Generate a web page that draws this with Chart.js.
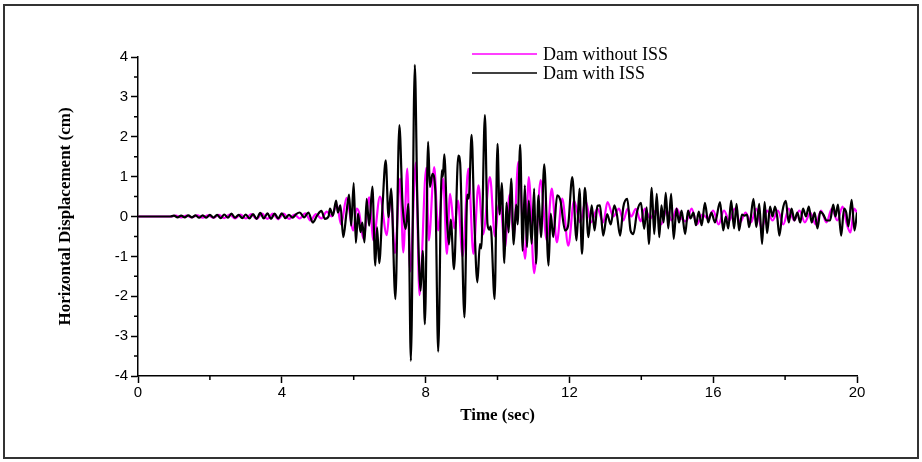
<!DOCTYPE html>
<html>
<head>
<meta charset="utf-8">
<title>Horizontal displacement</title>
<script src="https://cdn.jsdelivr.net/npm/chart.js@4.4.1/dist/chart.umd.min.js"></script>
<style>
    body { margin: 0; background: #fff; }
    #wrap { position: relative; width: 922px; height: 462px; }
    #frame { position: absolute; left: 3px; top: 4px; width: 916px; height: 455px; border: 2px solid #333; box-sizing: border-box; pointer-events: none; }
    canvas { position: absolute; left: 0; top: 0; }
</style>
</head>
<body>
<div id="wrap">
    <canvas id="dispChart" width="922" height="462"></canvas>
    <div id="frame"></div>
</div>
<script>
// Dam with ISS (black) - time (sec) / displacement (cm)
const timeWith = [
    0, 0.9, 1.0, 1.1, 1.2, 1.3, 1.4, 1.5, 1.6, 1.7,
    1.8, 1.9, 2.0, 2.1, 2.2, 2.3, 2.4, 2.5, 2.6, 2.7,
    2.8, 2.9, 3.0, 3.1, 3.2, 3.3, 3.4, 3.5, 3.6, 3.7,
    3.8, 3.9, 4.0, 4.1, 4.2, 4.3, 4.4, 4.5, 4.62, 4.74,
    4.86, 4.98, 5.1, 5.2, 5.3, 5.34, 5.42, 5.51, 5.56, 5.63,
    5.71, 5.8, 5.87, 5.93, 6.0, 6.06, 6.12, 6.19, 6.24, 6.3,
    6.36, 6.43, 6.52, 6.6, 6.65, 6.71, 6.8, 6.89, 6.97, 7.04,
    7.16, 7.27, 7.36, 7.45, 7.52, 7.59, 7.7, 7.77, 7.86, 7.92,
    7.98, 8.07, 8.12, 8.19, 8.27, 8.35, 8.45, 8.48, 8.52, 8.6,
    8.65, 8.7, 8.79, 8.91, 8.96, 9.08, 9.16, 9.2, 9.28, 9.35,
    9.44, 9.51, 9.55, 9.65, 9.72, 9.77, 9.81, 9.92, 10.0, 10.06,
    10.12, 10.19, 10.25, 10.31, 10.38, 10.45, 10.52, 10.56, 10.63, 10.7,
    10.76, 10.82, 10.87, 10.95, 11.02, 11.07, 11.14, 11.21, 11.3, 11.42,
    11.48, 11.55, 11.66, 11.75, 11.88, 11.96, 12.08, 12.2, 12.28, 12.35,
    12.43, 12.53, 12.62, 12.7, 12.78, 12.85, 12.94, 13.05, 13.15, 13.25,
    13.32, 13.41, 13.5, 13.61, 13.7, 13.78, 13.88, 13.99, 14.08, 14.15,
    14.21, 14.29, 14.36, 14.43, 14.5, 14.56, 14.62, 14.68, 14.75, 14.83,
    14.9, 14.98, 15.05, 15.12, 15.22, 15.3, 15.37, 15.45, 15.52, 15.6,
    15.68, 15.77, 15.86, 15.95, 16.05, 16.19, 16.28, 16.35, 16.42, 16.5,
    16.58, 16.65, 16.72, 16.8, 16.87, 16.94, 17.0, 17.12, 17.2, 17.28,
    17.36, 17.43, 17.5, 17.58, 17.65, 17.72, 17.78, 17.84, 17.93, 18.02,
    18.1, 18.18, 18.26, 18.34, 18.42, 18.5, 18.58, 18.66, 18.74, 18.82,
    18.9, 18.98, 19.06, 19.16, 19.25, 19.34, 19.4, 19.47, 19.56, 19.64,
    19.7, 19.76, 19.85, 19.93, 20.0
];
const dispWith = [
    0, 0, 0.02, -0.02, 0.02, -0.02, 0.03, -0.02, 0.03, -0.03,
    0.03, -0.03, 0.04, -0.03, 0.04, -0.04, 0.05, -0.03, 0.07, -0.03,
    0.04, -0.04, 0.05, -0.05, 0.06, -0.06, 0.09, -0.05, 0.08, -0.06,
    0.07, -0.05, 0.08, -0.04, 0.04, -0.03, 0.06, 0.1, -0.02, 0.1,
    -0.15, 0.02, 0.14, -0.06, 0.0, 0.2, 0.02, 0.4, 0.1, 0.28,
    -0.52, 0.1, 0.55, -0.23, 0.84, -0.66, 0.07, -0.39, -0.15, -0.65,
    0.44, -0.23, 0.75, -1.23, -0.27, -1.17, 0.23, 1.41, -0.02, 0.7,
    -2.07, 2.29, 0.28, -0.31, 0.32, -3.62, 3.8, 0.4, -1.86, -0.86,
    -2.7, 1.87, 0.74, 1.07, 0.65, -3.39, 1.16, 1.0, 1.56, -0.18,
    -0.7, -0.08, -1.32, 1.53, 1.35, -2.53, 0.55, 0.45, 2.05, 0.05,
    -1.65, -0.69, -0.8, 2.54, -0.18, -0.33, -0.25, -2.07, 1.82, 0.05,
    0.84, -1.17, 0.35, -0.4, 0.95, -0.7, 0.3, -0.2, 1.8, -0.86,
    0.78, -0.77, 0.4, -0.68, 0.7, -1.19, 0.53, -0.52, 1.31, -1.23,
    0.07, -0.52, 0.53, 0.4, -0.35, -0.25, 0.99, -0.6, 0.7, -0.94,
    0.72, -0.52, 0.28, -0.35, 0.27, 0.28, -0.48, 0.06, -0.2, 0.28,
    0.06, -0.48, 0.24, 0.44, -0.35, -0.44, 0.11, 0.34, -0.31, 0.23,
    -0.69, 0.72, -0.44, 0.57, -0.52, 0.28, -0.15, 0.59, -0.3, 0.57,
    -0.56, 0.2, -0.15, 0.15, -0.44, 0.15, -0.05, 0.1, -0.22, 0.12,
    -0.22, 0.34, -0.15, 0.1, -0.15, 0.36, -0.35, 0, -0.3, 0.4,
    -0.3, 0.32, -0.35, 0.05, 0.02, 0.05, -0.27, 0.44, -0.27, 0.32,
    -0.69, 0.36, -0.42, 0.25, 0, 0.25, 0, -0.48, 0.15, 0.39,
    -0.15, 0.2, -0.1, 0.1, -0.15, 0.2, 0, 0.25, -0.15, 0.1,
    -0.3, 0.12, 0.05, -0.1, -0.1, 0.3, 0, 0.3, -0.48, 0.2,
    0.1, -0.25, 0.42, -0.35, 0.1
];

// Dam without ISS (magenta)
const timeWithout = [
    0, 0.9, 1.05, 1.2, 1.35, 1.5, 1.65, 1.8, 1.95, 2.1,
    2.25, 2.4, 2.55, 2.7, 2.85, 3.0, 3.15, 3.3, 3.45, 3.6,
    3.75, 3.9, 4.05, 4.2, 4.35, 4.5, 4.65, 4.8, 4.95, 5.1,
    5.25, 5.39, 5.53, 5.65, 5.8, 5.99, 6.08, 6.15, 6.27, 6.43,
    6.55, 6.73, 6.92, 7.03, 7.15, 7.29, 7.38, 7.49, 7.57, 7.73,
    7.83, 8.02, 8.09, 8.24, 8.35, 8.49, 8.59, 8.68, 8.8, 8.9,
    9.03, 9.19, 9.33, 9.47, 9.6, 9.79, 9.93, 10.03, 10.1, 10.2,
    10.34, 10.45, 10.58, 10.77, 10.87, 11.02, 11.2, 11.37, 11.51, 11.65,
    11.8, 11.97, 12.13, 12.3, 12.45, 12.6, 12.78, 12.94, 13.06, 13.22,
    13.38, 13.5, 13.62, 13.72, 13.85, 13.98, 14.1, 14.25, 14.4, 14.55,
    14.7, 14.85, 14.98, 15.12, 15.25, 15.4, 15.55, 15.7, 15.85, 16.0,
    16.15, 16.3, 16.45, 16.6, 16.75, 16.9, 17.05, 17.2, 17.35, 17.5,
    17.65, 17.8, 17.95, 18.1, 18.25, 18.4, 18.55, 18.7, 18.85, 19.0,
    19.15, 19.3, 19.45, 19.6, 19.72, 19.82, 19.92, 20.0
];
const dispWithout = [
    0, 0, 0.02, -0.02, 0.02, -0.02, 0.03, -0.03, 0.03, -0.03,
    0.04, -0.04, 0.05, -0.05, 0.05, -0.05, 0.06, -0.06, 0.07, -0.06,
    0.07, -0.07, 0.07, -0.06, 0.05, -0.05, 0.08, -0.1, 0.06, -0.05,
    0.12, 0.0, 0.3, -0.2, 0.47, -0.35, 0.2, 0.1, -0.56, 0.48,
    -0.6, 0.5, -0.47, 0.5, -0.92, 0.95, -0.9, 1.2, -1.38, 1.35,
    -1.97, 1.22, -0.6, 1.24, -0.35, 0.95, -0.94, 0.57, -0.3, 0.4,
    -1.0, 1.2, -0.94, 0.78, -0.45, 0.99, -0.5, 0.3, 0.2, -0.8,
    0.55, -0.5, 1.37, -1.06, 0.99, -1.42, 0.91, -0.6, 0.7, -0.65,
    0.45, -0.73, 0.4, -0.15, 0.4, -0.15, 0.2, -0.15, 0.36, 0.0,
    0.2, -0.1, 0.2, 0.0, 0.19, -0.12, 0.2, -0.05, 0.15, -0.2,
    0.15, -0.1, 0.2, -0.05, -0.12, 0.2, -0.2, 0.05, -0.05, 0.15,
    -0.2, 0.15, -0.1, 0.2, -0.15, 0.1, -0.15, 0.2, -0.3, 0.15,
    -0.1, 0.15, -0.2, 0.2, -0.1, 0.15, -0.15, 0.1, -0.2, 0.15,
    -0.15, 0.2, -0.1, 0.25, -0.2, -0.4, 0.2, 0.1
];

const xTicks = [0, 4, 8, 12, 16, 20];
const yTicks = [-4, -3, -2, -1, 0, 1, 2, 3, 4];
const seriesNames = ['Dam without ISS', 'Dam with ISS'];

const toPoints = (ts, vs) => ts.map((t, i) => ({x: t, y: vs[i]}));

// small ticks halfway between the labelled ones
const minorTicks = {
    id: 'minorTicks',
    afterDraw(chart) {
        const {ctx, scales: {x, y}} = chart;
        ctx.save();
        ctx.strokeStyle = '#000';
        ctx.lineWidth = 1.5;
        ctx.beginPath();
        for (let i = 0; i < xTicks.length - 1; i++) {
            let px = x.getPixelForValue((xTicks[i] + xTicks[i + 1]) / 2);
            ctx.moveTo(px, y.bottom);
            ctx.lineTo(px, y.bottom + 4);
        }
        for (let i = 0; i < yTicks.length - 1; i++) {
            let py = y.getPixelForValue((yTicks[i] + yTicks[i + 1]) / 2);
            ctx.moveTo(x.left, py);
            ctx.lineTo(x.left - 4, py);
        }
        ctx.stroke();
        ctx.restore();
    }
};

// legend sits inside the plot, top middle
const insideLegend = {
    id: 'insideLegend',
    afterDraw(chart) {
        const ctx = chart.ctx;
        const area = chart.chartArea;
        const lx = area.left + 334;
        const ly = area.top - 3;
        ctx.save();
        ctx.font = '18px "Liberation Serif", "Times New Roman", serif';
        ctx.textBaseline = 'middle';
        ctx.fillStyle = '#000';
        chart.data.datasets.forEach((ds, i) => {
            let yy = ly + i * 19;
            ctx.strokeStyle = ds.borderColor;
            ctx.lineWidth = 1.5;
            ctx.beginPath();
            ctx.moveTo(lx, yy);
            ctx.lineTo(lx + 65, yy);
            ctx.stroke();
            ctx.fillText(ds.label, lx + 71, yy + 1);
        });
        ctx.restore();
    }
};

const ctx = document.getElementById('dispChart').getContext('2d');
const dispChart = new Chart(ctx, {
    type: 'line',
    data: {
        datasets: [{
            label: seriesNames[0],
            data: toPoints(timeWithout, dispWithout),
            borderColor: '#ff00ff',
            borderWidth: 2.2,
            order: 2
        }, {
            label: seriesNames[1],
            data: toPoints(timeWith, dispWith),
            borderColor: '#000000',
            borderWidth: 2.2,
            order: 1
        }]
    },
    options: {
        responsive: false,
        animation: false,
        events: [],
        layout: {
            padding: {left: 0, top: 57, right: 65, bottom: 0}
        },
        elements: {
            point: {radius: 0},
            line: {cubicInterpolationMode: 'monotone'}
        },
        plugins: {
            legend: {display: false},
            tooltip: {enabled: false}
        },
        scales: {
            x: {
                type: 'linear',
                min: 0,
                max: 20,
                afterBuildTicks: (s) => { s.ticks = xTicks.map(v => ({value: v})); },
                afterFit: (s) => { s.height = 86; },
                grid: {display: true, drawOnChartArea: false, color: '#000', tickLength: 7, tickWidth: 1.5},
                border: {display: true, color: '#000', width: 1.5},
                ticks: {
                    color: '#000',
                    padding: 1,
                    maxRotation: 0,
                    font: {family: '"Liberation Sans", Arial, sans-serif', size: 15}
                },
                title: {
                    display: true,
                    text: 'Time (sec)',
                    color: '#000',
                    padding: {top: 0, bottom: 36},
                    font: {family: '"Liberation Serif", "Times New Roman", serif', size: 17, weight: 'bold'}
                }
            },
            y: {
                min: -4,
                max: 4,
                afterBuildTicks: (s) => { s.ticks = yTicks.map(v => ({value: v})); },
                afterFit: (s) => { s.width = 138; },
                grid: {display: true, drawOnChartArea: false, color: '#000', tickLength: 7, tickWidth: 1.5},
                border: {display: true, color: '#000', width: 1.5},
                ticks: {
                    color: '#000',
                    padding: 3,
                    font: {family: '"Liberation Sans", Arial, sans-serif', size: 15}
                },
                title: {
                    display: true,
                    text: 'Horizontal Displacement (cm)',
                    color: '#000',
                    padding: {top: 55, bottom: 0},
                    font: {family: '"Liberation Serif", "Times New Roman", serif', size: 17, weight: 'bold'}
                }
            }
        }
    },
    plugins: [minorTicks, insideLegend]
});
</script>
</body>
</html>
